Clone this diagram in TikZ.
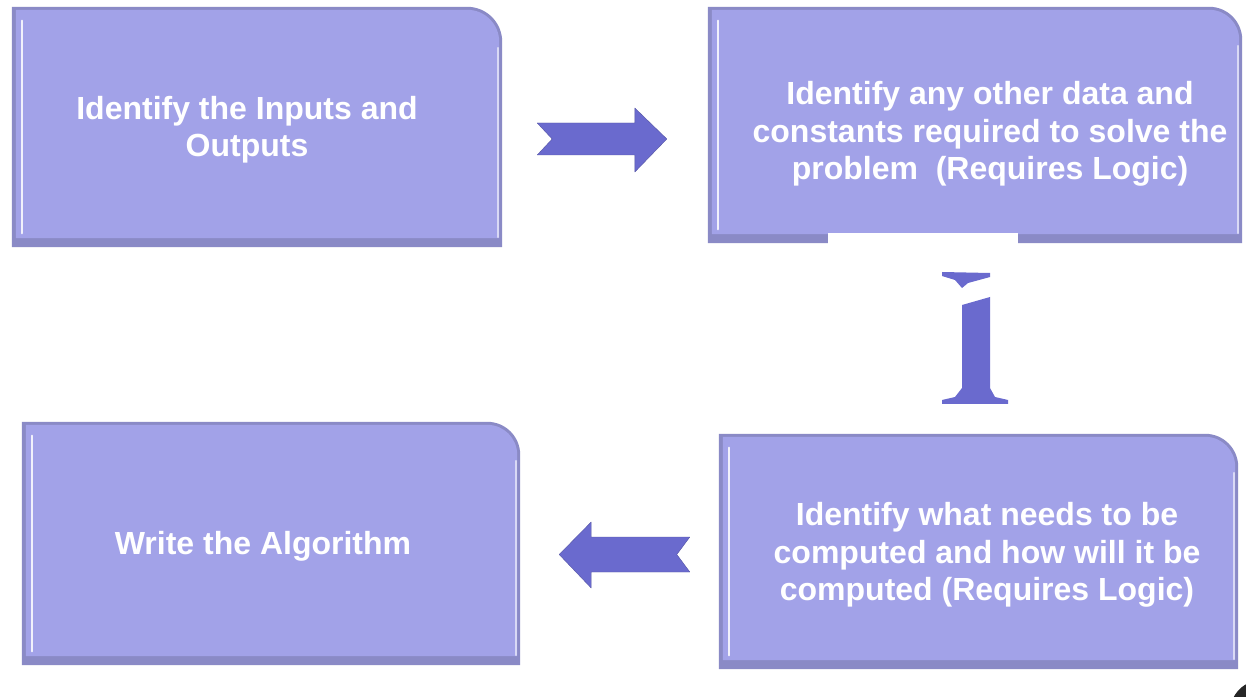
\documentclass[tikz,border=0pt]{standalone}
\usepackage{fontspec}
\setmainfont{Liberation Sans}
\usetikzlibrary{calc}
\definecolor{boxfill}{RGB}{162,162,232}
\definecolor{boxedge}{RGB}{138,138,198}
\definecolor{arrowfill}{RGB}{106,106,206}
\newcommand\boxshape[2]{%
  \fill[boxedge] (#1.south west) -- (#1.north west) -- ([xshift=-#2pt]#1.north east)
     arc[start angle=90,end angle=0,radius=#2pt] -- (#1.south east) -- cycle;
  \fill[boxfill] ([shift={(4pt,9pt)}]#1.south west) -- ([shift={(4pt,-3pt)}]#1.north west)
     -- ([shift={(-#2pt,-3pt)}]#1.north east)
     arc[start angle=90,end angle=0,radius=#2pt-3pt] -- ([shift={(-3pt,9pt)}]#1.south east) -- cycle;
  \draw[white, line width=2.5pt, opacity=.85, line cap=round]
     ([shift={(10pt,-14pt)}]#1.north west) -- ([shift={(10pt,14pt)}]#1.south west);
  \draw[white, line width=1.5pt, opacity=.6, line cap=round]
     ([shift={(-4pt,-#2pt-6pt)}]#1.north east) -- ([shift={(-4pt,10pt)}]#1.south east);
}
\tikzset{
  boxnode/.style={draw=none, inner sep=0pt, minimum width=#1},
  txt/.style={text=white, align=center, inner sep=0pt,
     font=\bfseries\fontsize{32}{37.5}\selectfont},
  blockarrow/.style={fill=arrowfill, draw=arrowfill!80!black, line width=0.4pt, line join=round}
}
\begin{document}
\begin{tikzpicture}[x=1pt,y=1pt]
\clip (0,0) rectangle (1246,696);
\fill[white] (0,0) rectangle (1246,696);

% boxes
\node[boxnode=490pt, minimum height=240pt] (b1) at (257,569) {};
\node[boxnode=534pt, minimum height=236pt] (b2) at (975,571) {};
\node[boxnode=498pt, minimum height=243pt] (b3) at (271,152.5) {};
\node[boxnode=519pt, minimum height=235pt] (b4) at (978.5,144.5) {};
\boxshape{b1}{35}
\boxshape{b2}{33}
\boxshape{b3}{33}
\boxshape{b4}{33}

% white patch over the bottom of box 2
\fill[white] (828,434) rectangle (1018,463);

% texts
\node[txt] (t1) at (247,566.4) {Identify the Inputs and\\Outputs};
\node[txt] (t2) at (990,561.8) {Identify any other data and\\constants required to solve the\\problem\ \ (Requires Logic)};
\node[txt] (t3) at (263,149.4) {Write the Algorithm};
\node[txt] (t4) at (987,140.8) {Identify what needs to be\\computed and how will it be\\computed (Requires Logic)};

% right block arrow (b1 -> b2)
\coordinate (a1s) at ([xshift=35pt]b1.east |- 0,557);
\coordinate (a1e) at ([xshift=-41pt]b2.west |- 0,557);
\fill[blockarrow] (a1s) ++(0,16) -- ($(a1e)+(-32,16)$) -- ($(a1e)+(-32,31)$) -- (a1e)
  -- ($(a1e)+(-32,-33)$) -- ($(a1e)+(-32,-16)$) -- ($(a1s)+(0,-16)$) -- ($(a1s)+(15,0)$) -- cycle;

% left block arrow (b4 -> b3)
\coordinate (a2s) at ([xshift=-29pt]b4.west |- 0,141.5);
\coordinate (a2e) at ([xshift=39pt]b3.east |- 0,141.5);
\fill[blockarrow] (a2s) ++(0,17.5) -- ($(a2e)+(32,17.5)$) -- ($(a2e)+(32,32.5)$) -- (a2e)
  -- ($(a2e)+(32,-33.5)$) -- ($(a2e)+(32,-17.5)$) -- ($(a2s)+(0,-17.5)$) -- ($(a2s)+(-13,0)$) -- cycle;

% broken vertical arrow between b4 and b2
\fill[arrowfill] (942,424) -- (990,423) -- (990,419) -- (968,413) -- (962,408) -- (955,416) -- (942,420) -- cycle;
\fill[arrowfill] (962,391) -- (990,399) -- (990,308) -- (995,299) -- (1008,296) -- (1008,292)
  -- (942,292) -- (942,296) -- (955,299) -- (962,308) -- cycle;

% dark blob in the lower right corner
\fill[black!85] (1262,-16) circle (32);
\end{tikzpicture}
\end{document}
